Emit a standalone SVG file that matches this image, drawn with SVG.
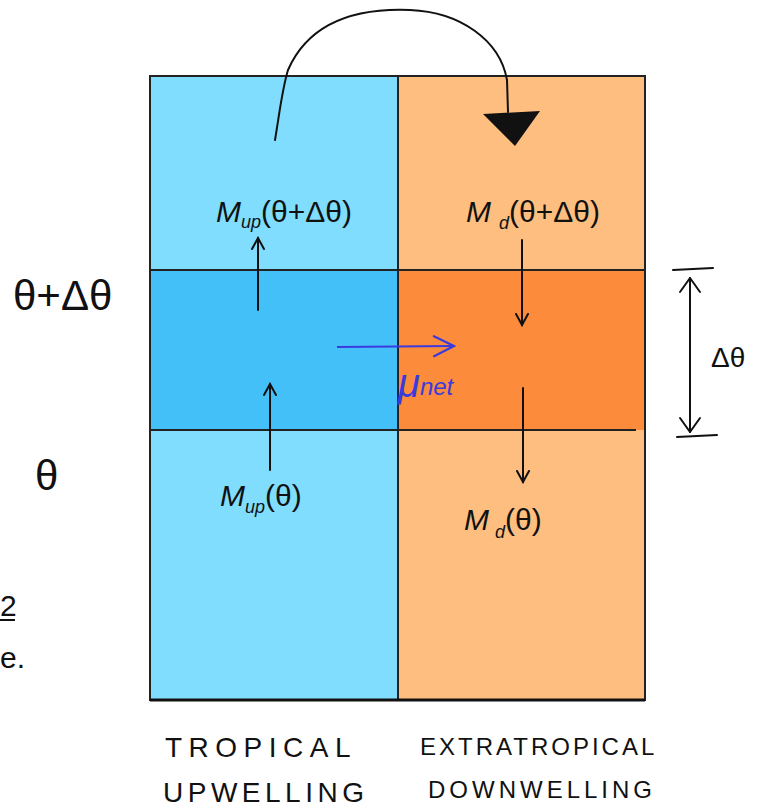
<svg xmlns="http://www.w3.org/2000/svg" width="760" height="807" viewBox="0 0 760 807">
<style>
.txt{font-family:"Liberation Sans","DejaVu Sans",sans-serif;fill:#111}
.lbl{font-family:"Liberation Sans","DejaVu Sans",sans-serif;fill:#111;font-size:30px}
.sub{font-size:18px}
.ln{stroke:#111;stroke-width:2;fill:none;stroke-linecap:round;stroke-linejoin:round}
.grid{stroke:#222;stroke-width:2;fill:none}
</style>
<defs>
<marker id="open" markerWidth="14" markerHeight="14" refX="12" refY="7" orient="auto" markerUnits="userSpaceOnUse">
<path d="M1,1 L12,7 L1,13" fill="none" stroke="#111" stroke-width="2" stroke-linecap="round"/>
</marker>
<marker id="openb" markerWidth="24" markerHeight="24" refX="22" refY="12" orient="auto" markerUnits="userSpaceOnUse">
<path d="M2,2 L22,12 L2,22" fill="none" stroke="#3a3adf" stroke-width="2.2" stroke-linecap="round"/>
</marker>
</defs>
<rect width="760" height="807" fill="#fff"/>

<g id="tropical-column">
<rect x="150" y="76" width="248" height="624" fill="#80DDFD"/>
<rect x="150" y="270" width="248" height="160" fill="#44C0F9"/>
</g>
<g id="extratropical-column">
<rect x="398" y="76" width="247" height="624" fill="#FDBE80"/>
<rect x="398" y="270" width="247" height="160" fill="#FC8C3C"/>
</g>
<g id="grid">
<rect x="150" y="76" width="495" height="624" class="grid"/>
<line x1="398" y1="76" x2="398" y2="700" class="grid"/>
<line x1="150" y1="270" x2="645" y2="270" class="grid"/>
<line x1="150" y1="430" x2="636" y2="430" class="grid"/>
<line x1="150" y1="700" x2="645" y2="700" stroke="#111" stroke-width="3"/>
</g>

<g id="connectors">
<path d="M275,140 C280,110 282,90 288,70 C310,20 360,8 410,10 C460,12 500,40 507,80 L508,112" class="ln" stroke-width="3"/>
<polygon points="483,114 540,111 515,146" fill="#111"/>
<line x1="258" y1="310" x2="258" y2="238" class="ln" marker-end="url(#open)"/>
<line x1="522" y1="240" x2="522" y2="325" class="ln" marker-end="url(#open)"/>
<line x1="270" y1="470" x2="270" y2="384" class="ln" marker-end="url(#open)"/>
<line x1="523" y1="388" x2="523" y2="482" class="ln" marker-end="url(#open)"/>
<line x1="337" y1="347" x2="454" y2="346" stroke="#3a3adf" stroke-width="2.2" fill="none" marker-end="url(#openb)"/>
<line x1="673" y1="270" x2="713" y2="268" class="ln"/>
<line x1="677" y1="437" x2="717" y2="435" class="ln"/>
<line x1="690" y1="432" x2="690" y2="278" class="ln"/>
<path d="M680,292 L690,278 L700,292" class="ln"/>
<path d="M680,418 L690,432 L700,418" class="ln"/>
</g>

<g id="label-mup-top"><text x="216" y="222" class="lbl" font-style="italic">M<tspan class="sub" dy="6">up</tspan><tspan dy="-6" font-style="normal">(θ+Δθ)</tspan></text></g>
<g id="label-md-top"><text x="466" y="222" class="lbl" font-style="italic">M<tspan class="sub" dx="8" dy="7">d</tspan><tspan dy="-7" font-style="normal">(θ+Δθ)</tspan></text></g>
<g id="label-mup-bottom"><text x="220" y="506" class="lbl" font-style="italic">M<tspan class="sub" dy="7">up</tspan><tspan dy="-7" font-style="normal">(θ)</tspan></text></g>
<g id="label-md-bottom"><text x="464" y="530" class="lbl" font-style="italic">M<tspan class="sub" dx="6" dy="8">d</tspan><tspan dy="-8" font-style="normal">(θ)</tspan></text></g>
<g id="label-munet"><text x="398" y="397" font-family="Liberation Sans,DejaVu Sans,sans-serif" font-size="40" font-style="italic" fill="#3a3adf">μ<tspan font-size="24" dy="-2">net</tspan></text></g>
<g id="label-theta-top"><text x="13" y="310" class="txt" font-size="42">θ+Δθ</text></g>
<g id="label-theta"><text x="35" y="490" class="txt" font-size="42">θ</text></g>
<g id="label-dtheta"><text x="711" y="367" class="txt" font-size="28">Δθ</text></g>
<g id="label-tropical">
<text x="165" y="757" class="txt" font-size="28" letter-spacing="6.5">TROPICAL</text>
<text x="163" y="802" class="txt" font-size="28" letter-spacing="4.5">UPWELLING</text>
</g>
<g id="label-extratropical">
<text x="420" y="755" class="txt" font-size="24" letter-spacing="3">EXTRATROPICAL</text>
<text x="428" y="798" class="txt" font-size="24" letter-spacing="4">DOWNWELLING</text>
</g>
<g id="edge-text">
<text x="0" y="616" class="txt" font-size="30">2</text>
<line x1="0" y1="620" x2="15" y2="620" stroke="#111" stroke-width="2"/>
<text x="0" y="668" class="txt" font-size="30">e.</text>
</g>
</svg>
